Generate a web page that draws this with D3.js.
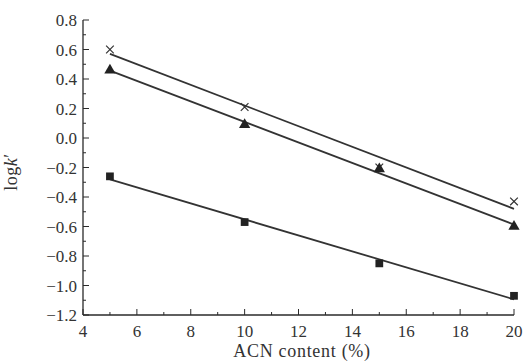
<!DOCTYPE html>
<html><head><meta charset="utf-8">
<script src="https://cdn.jsdelivr.net/npm/d3@7"></script>
<style>body{margin:0;background:#fff}svg{display:block}</style>
</head><body>
<svg id="c" width="528" height="361"></svg>
<script>
const acn = [5, 10, 15, 20];
const seriesCross = [0.60, 0.21, -0.20, -0.43];
const seriesTriangle = [0.46, 0.09, -0.21, -0.60];
const seriesSquare = [-0.26, -0.57, -0.85, -1.07];
const xTicks = [4, 6, 8, 10, 12, 14, 16, 18, 20];
const yTicks = [0.8, 0.6, 0.4, 0.2, 0.0, -0.2, -0.4, -0.6, -0.8, -1.0, -1.2];

const svg = d3.select("#c");
const x = d3.scaleLinear().domain([4, 20]).range([83, 514]);
const y = d3.scaleLinear().domain([-1.2, 0.8]).range([315, 20]);
const ink = "#2a2a2a";
const font = "'Liberation Serif','DejaVu Serif',serif";

// axes lines
svg.append("line").attr("x1", x(4)).attr("x2", x(20)).attr("y1", y(-1.2)).attr("y2", y(-1.2)).attr("stroke", ink).attr("stroke-width", 1.3);
svg.append("line").attr("x1", x(4)).attr("x2", x(4)).attr("y1", y(-1.2)).attr("y2", y(0.8)).attr("stroke", ink).attr("stroke-width", 1.3);

// x ticks (inward)
const xMinor = d3.range(4, 20.01, 1);
svg.selectAll(".xt").data(xMinor).join("line")
  .attr("x1", d => x(d)).attr("x2", d => x(d))
  .attr("y1", y(-1.2)).attr("y2", d => y(-1.2) - (d % 2 === 0 ? 6 : 3))
  .attr("stroke", ink).attr("stroke-width", 1);
svg.selectAll(".xl").data(xTicks).join("text")
  .attr("x", d => x(d)).attr("y", 337).attr("text-anchor", "middle")
  .attr("font-family", font).attr("font-size", 17).attr("fill", "#333").text(d => d);

// y ticks (inward)
const yMinor = d3.range(-12, 8.01, 1).map(v => v / 10);
svg.selectAll(".yt").data(yMinor).join("line")
  .attr("x1", x(4)).attr("x2", (d, i) => x(4) + (i % 2 === 0 ? 6 : 3))
  .attr("y1", d => y(d)).attr("y2", d => y(d))
  .attr("stroke", ink).attr("stroke-width", 1);
svg.selectAll(".yl").data(yTicks).join("text")
  .attr("x", 77).attr("y", d => y(d) + 6).attr("text-anchor", "end")
  .attr("font-family", font).attr("font-size", 17).attr("fill", "#333")
  .text(d => (d < 0 ? "\u2212" : "") + Math.abs(d).toFixed(1));

// axis titles
svg.append("text").attr("x", 302).attr("y", 357).attr("text-anchor", "middle")
  .attr("font-family", font).attr("font-size", 18).attr("letter-spacing", 0.7).attr("fill", "#333").text("ACN content (%)");
const yt = svg.append("text").attr("transform", "translate(17,172) rotate(-90)").attr("text-anchor", "middle")
  .attr("font-family", font).attr("font-size", 18).attr("letter-spacing", 0.5).attr("fill", "#333");
yt.append("tspan").text("log");
yt.append("tspan").attr("font-style", "italic").text("k");
yt.append("tspan").text("\u2032");

// regression lines
function fit(xs, ys) {
  const mx = d3.mean(xs), my = d3.mean(ys);
  const b = d3.sum(xs.map((v, i) => (v - mx) * (ys[i] - my))) / d3.sum(xs.map(v => (v - mx) ** 2));
  return v => my + b * (v - mx);
}
const all = [seriesCross, seriesTriangle, seriesSquare];
all.forEach(s => {
  const f = fit(acn, s);
  svg.append("line").attr("x1", x(5)).attr("y1", y(f(5))).attr("x2", x(20)).attr("y2", y(f(20)))
    .attr("stroke", "#333").attr("stroke-width", 1.8);
});

// markers
const cross = d3.symbol().type(d3.symbolX).size(40);
svg.selectAll(".cx").data(acn).join("path")
  .attr("transform", (d, i) => `translate(${x(d)},${y(seriesCross[i])})`)
  .attr("d", cross()).attr("fill", "none").attr("stroke", "#333").attr("stroke-width", 1.2);
const tri = d3.symbol().type(d3.symbolTriangle).size(55);
svg.selectAll(".tr").data(acn).join("path")
  .attr("transform", (d, i) => `translate(${x(d)},${y(seriesTriangle[i])})`)
  .attr("d", tri()).attr("fill", "#222");
const sq = d3.symbol().type(d3.symbolSquare).size(60);
svg.selectAll(".sq").data(acn).join("path")
  .attr("transform", (d, i) => `translate(${x(d)},${y(seriesSquare[i])})`)
  .attr("d", sq()).attr("fill", "#222");
</script>
</body></html>
